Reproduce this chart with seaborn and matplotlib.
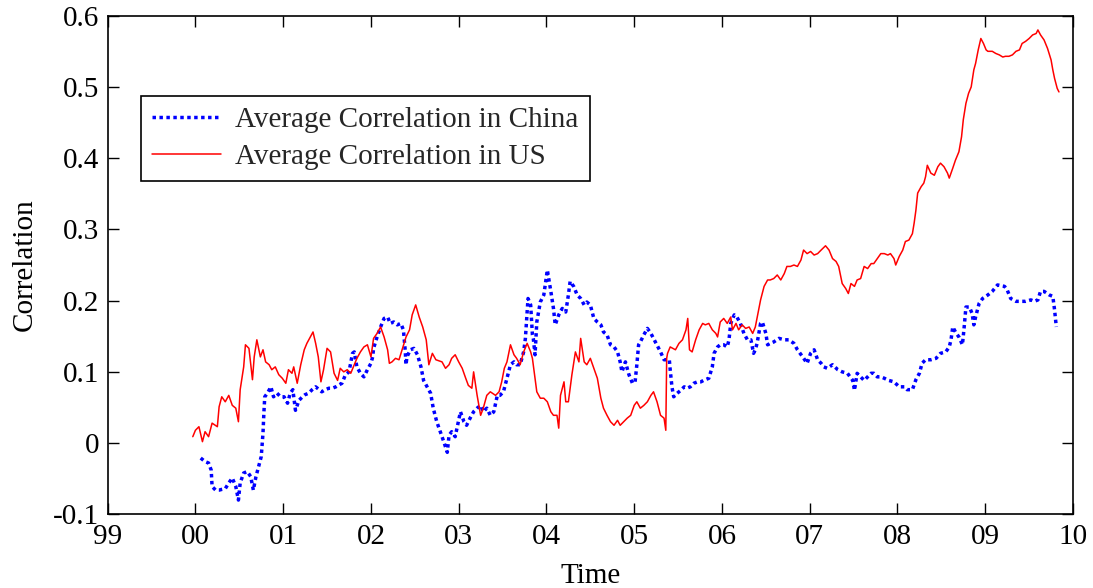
import matplotlib
matplotlib.use("Agg")
import matplotlib.pyplot as plt
import numpy as np
import pandas as pd
import seaborn as sns

# ---------------- data ----------------
us_year = [1999.97, 2000.00, 2000.04, 2000.08, 2000.11, 2000.15, 2000.19, 2000.25, 2000.27, 2000.30,
           2000.34, 2000.38, 2000.42, 2000.46, 2000.49, 2000.51, 2000.55, 2000.57, 2000.61, 2000.65,
           2000.67, 2000.70, 2000.74, 2000.77, 2000.80, 2000.84, 2000.87, 2000.91, 2000.95, 2000.99,
           2001.03, 2001.06, 2001.10, 2001.12, 2001.16, 2001.20, 2001.24, 2001.27, 2001.31, 2001.34,
           2001.37, 2001.40, 2001.43, 2001.46, 2001.50, 2001.54, 2001.58, 2001.62, 2001.65, 2001.69,
           2001.73, 2001.77, 2001.81, 2001.84, 2001.88, 2001.92, 2001.96, 2002.00, 2002.03, 2002.07,
           2002.11, 2002.15, 2002.19, 2002.21, 2002.24, 2002.28, 2002.32, 2002.36, 2002.40, 2002.44,
           2002.47, 2002.51, 2002.55, 2002.59, 2002.63, 2002.66, 2002.70, 2002.74, 2002.81, 2002.85,
           2002.89, 2002.92, 2002.96, 2003.00, 2003.04, 2003.08, 2003.11, 2003.15, 2003.17, 2003.21,
           2003.25, 2003.28, 2003.32, 2003.36, 2003.42, 2003.46, 2003.49, 2003.52, 2003.55, 2003.59,
           2003.63, 2003.66, 2003.70, 2003.74, 2003.78, 2003.82, 2003.84, 2003.86, 2003.89, 2003.93,
           2003.97, 2004.01, 2004.05, 2004.08, 2004.12, 2004.14, 2004.16, 2004.20, 2004.22, 2004.25,
           2004.29, 2004.33, 2004.37, 2004.39, 2004.43, 2004.46, 2004.50, 2004.54, 2004.58, 2004.62,
           2004.65, 2004.69, 2004.73, 2004.77, 2004.81, 2004.84, 2004.88, 2004.92, 2004.96, 2005.00,
           2005.03, 2005.07, 2005.11, 2005.15, 2005.19, 2005.22, 2005.26, 2005.30, 2005.34, 2005.36,
           2005.37, 2005.38, 2005.41, 2005.47, 2005.51, 2005.55, 2005.59, 2005.61, 2005.63, 2005.66,
           2005.70, 2005.74, 2005.78, 2005.81, 2005.85, 2005.89, 2005.93, 2005.95, 2005.98, 2006.02,
           2006.06, 2006.10, 2006.12, 2006.16, 2006.19, 2006.23, 2006.27, 2006.31, 2006.35, 2006.38,
           2006.41, 2006.44, 2006.48, 2006.52, 2006.55, 2006.59, 2006.63, 2006.67, 2006.71, 2006.74,
           2006.78, 2006.82, 2006.86, 2006.90, 2006.93, 2006.97, 2007.01, 2007.05, 2007.09, 2007.13,
           2007.18, 2007.22, 2007.26, 2007.30, 2007.33, 2007.37, 2007.41, 2007.44, 2007.47, 2007.51,
           2007.54, 2007.58, 2007.62, 2007.66, 2007.70, 2007.73, 2007.77, 2007.81, 2007.85, 2007.89,
           2007.92, 2007.96, 2007.98, 2008.02, 2008.06, 2008.09, 2008.13, 2008.17, 2008.19, 2008.21,
           2008.23, 2008.27, 2008.30, 2008.32, 2008.34, 2008.38, 2008.42, 2008.46, 2008.49, 2008.53,
           2008.57, 2008.59, 2008.63, 2008.66, 2008.70, 2008.73, 2008.75, 2008.78, 2008.81, 2008.84,
           2008.87, 2008.89, 2008.92, 2008.95, 2008.98, 2009.01, 2009.03, 2009.08, 2009.12, 2009.16,
           2009.20, 2009.23, 2009.27, 2009.31, 2009.35, 2009.39, 2009.42, 2009.46, 2009.50, 2009.54,
           2009.58, 2009.60, 2009.63, 2009.67, 2009.71, 2009.75, 2009.77, 2009.79, 2009.82, 2009.84]
us_corr = [0.009, 0.018, 0.023, 0.002, 0.016, 0.009, 0.028, 0.023, 0.051, 0.065,
           0.058, 0.067, 0.053, 0.049, 0.030, 0.075, 0.107, 0.138, 0.133, 0.089,
           0.121, 0.145, 0.121, 0.131, 0.114, 0.110, 0.103, 0.107, 0.096, 0.091,
           0.084, 0.103, 0.098, 0.107, 0.084, 0.110, 0.131, 0.140, 0.149, 0.156,
           0.140, 0.121, 0.086, 0.103, 0.133, 0.128, 0.098, 0.088, 0.105, 0.100,
           0.103, 0.098, 0.110, 0.119, 0.128, 0.135, 0.138, 0.121, 0.147, 0.154,
           0.163, 0.149, 0.131, 0.112, 0.114, 0.119, 0.117, 0.133, 0.149, 0.159,
           0.180, 0.194, 0.177, 0.163, 0.145, 0.110, 0.126, 0.117, 0.114, 0.105,
           0.110, 0.119, 0.124, 0.114, 0.105, 0.091, 0.081, 0.077, 0.100, 0.067,
           0.039, 0.049, 0.067, 0.072, 0.067, 0.072, 0.086, 0.105, 0.114, 0.138,
           0.124, 0.119, 0.110, 0.128, 0.140, 0.128, 0.119, 0.100, 0.072, 0.063,
           0.063, 0.058, 0.044, 0.039, 0.039, 0.021, 0.067, 0.086, 0.058, 0.058,
           0.096, 0.128, 0.114, 0.147, 0.114, 0.110, 0.119, 0.105, 0.091, 0.063,
           0.049, 0.039, 0.030, 0.025, 0.032, 0.025, 0.030, 0.035, 0.039, 0.053,
           0.058, 0.049, 0.053, 0.058, 0.067, 0.072, 0.058, 0.039, 0.035, 0.018,
           0.119, 0.126, 0.135, 0.131, 0.140, 0.145, 0.159, 0.175, 0.131, 0.128,
           0.145, 0.159, 0.168, 0.166, 0.168, 0.159, 0.154, 0.149, 0.170, 0.175,
           0.168, 0.177, 0.159, 0.168, 0.159, 0.166, 0.161, 0.163, 0.154, 0.163,
           0.182, 0.201, 0.220, 0.229, 0.229, 0.231, 0.236, 0.229, 0.238, 0.248,
           0.248, 0.250, 0.248, 0.257, 0.271, 0.266, 0.269, 0.264, 0.266, 0.271,
           0.277, 0.271, 0.259, 0.255, 0.248, 0.224, 0.217, 0.210, 0.224, 0.220,
           0.229, 0.231, 0.248, 0.245, 0.252, 0.252, 0.259, 0.266, 0.266, 0.264,
           0.266, 0.259, 0.250, 0.262, 0.271, 0.283, 0.285, 0.294, 0.309, 0.327,
           0.351, 0.360, 0.365, 0.374, 0.390, 0.379, 0.376, 0.388, 0.393, 0.388,
           0.379, 0.372, 0.386, 0.397, 0.409, 0.430, 0.454, 0.477, 0.491, 0.500,
           0.524, 0.533, 0.552, 0.568, 0.561, 0.552, 0.550, 0.550, 0.547, 0.545,
           0.542, 0.543, 0.543, 0.545, 0.550, 0.552, 0.561, 0.564, 0.568, 0.573,
           0.575, 0.580, 0.573, 0.566, 0.554, 0.538, 0.524, 0.512, 0.498, 0.493]

china_year = [2000.06, 2000.11, 2000.15, 2000.18, 2000.19, 2000.23, 2000.27, 2000.30, 2000.34, 2000.38,
              2000.42, 2000.46, 2000.49, 2000.51, 2000.55, 2000.59, 2000.63, 2000.66, 2000.69, 2000.73,
              2000.75, 2000.77, 2000.78, 2000.79, 2000.82, 2000.86, 2000.89, 2000.93, 2000.97, 2001.01,
              2001.05, 2001.08, 2001.11, 2001.14, 2001.18, 2001.22, 2001.25, 2001.29, 2001.33, 2001.37,
              2001.41, 2001.44, 2001.48, 2001.52, 2001.56, 2001.60, 2001.64, 2001.67, 2001.71, 2001.75,
              2001.79, 2001.81, 2001.84, 2001.88, 2001.92, 2001.96, 2002.00, 2002.02, 2002.03, 2002.07,
              2002.11, 2002.15, 2002.19, 2002.22, 2002.26, 2002.30, 2002.34, 2002.37, 2002.39, 2002.40,
              2002.41, 2002.45, 2002.49, 2002.53, 2002.57, 2002.60, 2002.64, 2002.68, 2002.71, 2002.75,
              2002.79, 2002.83, 2002.87, 2002.89, 2002.92, 2002.96, 2003.02, 2003.06, 2003.09, 2003.13,
              2003.17, 2003.21, 2003.25, 2003.28, 2003.32, 2003.36, 2003.40, 2003.44, 2003.47, 2003.51,
              2003.55, 2003.59, 2003.63, 2003.66, 2003.70, 2003.74, 2003.76, 2003.78, 2003.79, 2003.82,
              2003.84, 2003.85, 2003.87, 2003.89, 2003.93, 2003.97, 2004.01, 2004.05, 2004.08, 2004.10,
              2004.14, 2004.18, 2004.22, 2004.25, 2004.27, 2004.31, 2004.35, 2004.39, 2004.43, 2004.46,
              2004.50, 2004.54, 2004.58, 2004.62, 2004.65, 2004.69, 2004.73, 2004.77, 2004.81, 2004.84,
              2004.86, 2004.90, 2004.94, 2004.98, 2005.01, 2005.03, 2005.05, 2005.07, 2005.11, 2005.15,
              2005.19, 2005.22, 2005.26, 2005.30, 2005.34, 2005.40, 2005.41, 2005.43, 2005.45, 2005.49,
              2005.53, 2005.57, 2005.60, 2005.64, 2005.68, 2005.72, 2005.76, 2005.79, 2005.85, 2005.89,
              2005.91, 2005.95, 2005.98, 2006.02, 2006.06, 2006.08, 2006.10, 2006.14, 2006.17, 2006.21,
              2006.25, 2006.29, 2006.33, 2006.36, 2006.38, 2006.40, 2006.44, 2006.46, 2006.50, 2006.52,
              2006.55, 2006.59, 2006.65, 2006.71, 2006.76, 2006.82, 2006.86, 2006.92, 2006.97, 2007.01,
              2007.05, 2007.09, 2007.13, 2007.16, 2007.20, 2007.26, 2007.32, 2007.37, 2007.43, 2007.49,
              2007.51, 2007.54, 2007.58, 2007.62, 2007.66, 2007.70, 2007.73, 2007.77, 2007.81, 2007.85,
              2007.90, 2007.96, 2008.02, 2008.08, 2008.11, 2008.17, 2008.21, 2008.25, 2008.28, 2008.32,
              2008.38, 2008.44, 2008.49, 2008.55, 2008.59, 2008.61, 2008.63, 2008.67, 2008.70, 2008.74,
              2008.76, 2008.78, 2008.82, 2008.85, 2008.87, 2008.89, 2008.93, 2008.97, 2009.03, 2009.08,
              2009.14, 2009.18, 2009.22, 2009.25, 2009.29, 2009.35, 2009.41, 2009.46, 2009.52, 2009.56,
              2009.60, 2009.63, 2009.67, 2009.73, 2009.77, 2009.79, 2009.81]
china_corr = [-0.021, -0.026, -0.028, -0.038, -0.061, -0.066, -0.066, -0.065, -0.064, -0.056,
              -0.049, -0.061, -0.080, -0.056, -0.042, -0.040, -0.047, -0.066, -0.047, -0.028,
              -0.019, 0.014, 0.042, 0.065, 0.070, 0.079, 0.065, 0.070, 0.065, 0.065,
              0.056, 0.070, 0.075, 0.046, 0.060, 0.065, 0.068, 0.070, 0.075, 0.079,
              0.075, 0.072, 0.075, 0.077, 0.077, 0.079, 0.082, 0.084, 0.096, 0.100,
              0.126, 0.128, 0.107, 0.098, 0.093, 0.103, 0.112, 0.121, 0.133, 0.149,
              0.163, 0.175, 0.177, 0.168, 0.170, 0.166, 0.168, 0.159, 0.131, 0.110,
              0.121, 0.131, 0.133, 0.124, 0.107, 0.088, 0.079, 0.070, 0.049, 0.030,
              0.016, 0.002, -0.013, 0.011, 0.016, 0.009, 0.044, 0.030, 0.025, 0.035,
              0.044, 0.049, 0.053, 0.044, 0.049, 0.039, 0.044, 0.067, 0.067, 0.072,
              0.091, 0.110, 0.114, 0.110, 0.110, 0.128, 0.147, 0.184, 0.203, 0.194,
              0.152, 0.147, 0.124, 0.170, 0.198, 0.208, 0.243, 0.213, 0.189, 0.166,
              0.180, 0.189, 0.184, 0.208, 0.227, 0.220, 0.208, 0.203, 0.194, 0.198,
              0.194, 0.175, 0.170, 0.166, 0.156, 0.152, 0.138, 0.135, 0.128, 0.114,
              0.100, 0.114, 0.096, 0.084, 0.086, 0.110, 0.138, 0.142, 0.152, 0.161,
              0.154, 0.147, 0.138, 0.128, 0.117, 0.117, 0.103, 0.079, 0.065, 0.070,
              0.074, 0.079, 0.077, 0.079, 0.084, 0.086, 0.086, 0.088, 0.091, 0.107,
              0.126, 0.135, 0.138, 0.138, 0.135, 0.145, 0.168, 0.180, 0.177, 0.168,
              0.154, 0.145, 0.145, 0.126, 0.131, 0.140, 0.168, 0.170, 0.154, 0.138,
              0.140, 0.142, 0.147, 0.145, 0.145, 0.140, 0.131, 0.121, 0.112, 0.126,
              0.131, 0.117, 0.112, 0.107, 0.105, 0.110, 0.103, 0.100, 0.098, 0.088,
              0.074, 0.098, 0.093, 0.088, 0.093, 0.098, 0.098, 0.093, 0.093, 0.091,
              0.088, 0.086, 0.079, 0.079, 0.075, 0.075, 0.089, 0.098, 0.112, 0.117,
              0.117, 0.119, 0.126, 0.128, 0.135, 0.145, 0.163, 0.154, 0.149, 0.138,
              0.163, 0.191, 0.191, 0.182, 0.166, 0.177, 0.196, 0.203, 0.208, 0.213,
              0.222, 0.221, 0.220, 0.215, 0.203, 0.199, 0.199, 0.199, 0.201, 0.199,
              0.201, 0.213, 0.213, 0.208, 0.206, 0.187, 0.163]

x_ticks = list(range(1999, 2011))
x_tick_labels = ["99", "00", "01", "02", "03", "04", "05", "06", "07", "08", "09", "10"]
y_ticks = [-0.1, 0.0, 0.1, 0.2, 0.3, 0.4, 0.5, 0.6]
y_tick_labels = ["-0.1", "0", "0.1", "0.2", "0.3", "0.4", "0.5", "0.6"]
label_china = "Average Correlation in China"
label_us = "Average Correlation in US"

# ---------------- style ----------------
sns.set_theme(style="white")
plt.rcParams["font.family"] = ["Liberation Serif", "DejaVu Serif"]
FS = 21

fig = plt.figure(figsize=(10.93, 5.88), dpi=100)
ax = fig.add_axes([0.0985, 0.1253, 0.8832, 0.8480])

df_china = pd.DataFrame({"year": china_year, "corr": china_corr})
df_us = pd.DataFrame({"year": us_year, "corr": us_corr})

sns.lineplot(data=df_china, x="year", y="corr", ax=ax, estimator=None, sort=False,
             color="#0000FF", linewidth=2.5, linestyle=(0, (1, 1)), label=label_china)
sns.lineplot(data=df_us, x="year", y="corr", ax=ax, estimator=None, sort=False,
             color="#FF0000", linewidth=1.1, label=label_us)

ax.set_xlim(1999, 2010)
ax.set_ylim(-0.1, 0.6)
ax.set_xticks(x_ticks)
ax.set_xticklabels(x_tick_labels)
ax.set_yticks(y_ticks)
ax.set_yticklabels(y_tick_labels)
ax.tick_params(axis="both", direction="in", length=8, width=1.0, colors="black",
               labelsize=FS, top=True, right=True, bottom=True, left=True)
ax.tick_params(axis="x", pad=7)
ax.tick_params(axis="y", pad=6)
for s in ax.spines.values():
    s.set_visible(True)
    s.set_color("black")
    s.set_linewidth(1.2)

ax.set_xlabel("Time", fontsize=FS, labelpad=9, color="black")
ax.set_ylabel("Correlation", fontsize=FS, labelpad=11, color="black")

leg = ax.legend(loc="upper left", bbox_to_anchor=(0.0345, 0.839), borderaxespad=0,
                frameon=True, fancybox=False, edgecolor="black", framealpha=1,
                fontsize=FS, handlelength=2.35, borderpad=0.38, labelspacing=0.36,
                handletextpad=0.5)
leg.get_frame().set_linewidth(1.2)

fig.savefig("out.png", dpi=100)
